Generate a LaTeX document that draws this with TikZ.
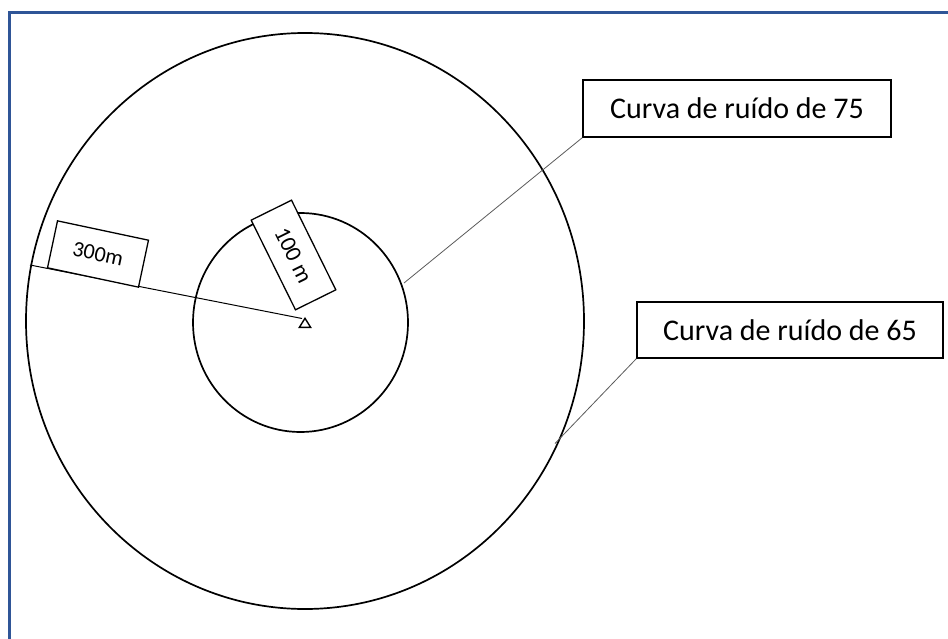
\documentclass[tikz,border=0pt]{standalone}
\usepackage{fontspec}
\setmainfont{Carlito}
\definecolor{bordblue}{RGB}{47,85,151}
\definecolor{leader}{RGB}{90,90,90}
\begin{document}
\begin{tikzpicture}[x=1pt,y=-1pt,
  curve/.style={draw=black, line width=1.7pt},
  labelbox/.style={draw=black, line width=1.3pt, fill=white, inner sep=0pt, align=center},
  leaderline/.style={draw=leader, line width=0.8pt}]
\useasboundingbox (0,0) rectangle (948,639);
% frame (top and left edges only)
\draw[bordblue, line width=3pt] (9.5,639) -- (9.5,12.5) -- (948,12.5);
% named points
\coordinate (ctr) at (302,318.5);
\coordinate (outL) at (30,265);
\coordinate (in75) at (404,283);
\coordinate (out65) at (555,443.5);
% circles
\path[curve] (305,321) ellipse [x radius=279, y radius=288];
\path[curve] (300.5,322.5) ellipse [x radius=107.5, y radius=109.5];
% radius line 300 m
\draw[black, line width=1pt] (outL) -- (ctr);
% label boxes on the radii
\node[labelbox, minimum width=93pt, minimum height=48pt, rotate=-12,
  font=\fontsize{22}{26}\selectfont] (l300) at (98,254) {300m};
\node[labelbox, minimum width=100pt, minimum height=45pt, rotate=-63.7,
  font=\fontsize{23}{27}\selectfont] (l100) at (293.5,255) {100 m};
% centre triangle
\draw[black, line width=1.4pt, line join=miter] (305,318.3) -- (310.6,327.3) -- (299.4,327.3) -- cycle;
% callouts
\node[labelbox, minimum width=308pt, minimum height=57pt,
  font=\fontsize{30}{36}\selectfont] (c75) at (737,108.5) {Curva de ruído de 75};
\node[labelbox, minimum width=306pt, minimum height=56pt,
  font=\fontsize{30}{36}\selectfont] (c65) at (790,330) {Curva de ruído de 65};
\draw[leaderline] (c75.south west) -- (in75);
\draw[leaderline] (c65.south west) -- (out65);
\end{tikzpicture}
\end{document}
